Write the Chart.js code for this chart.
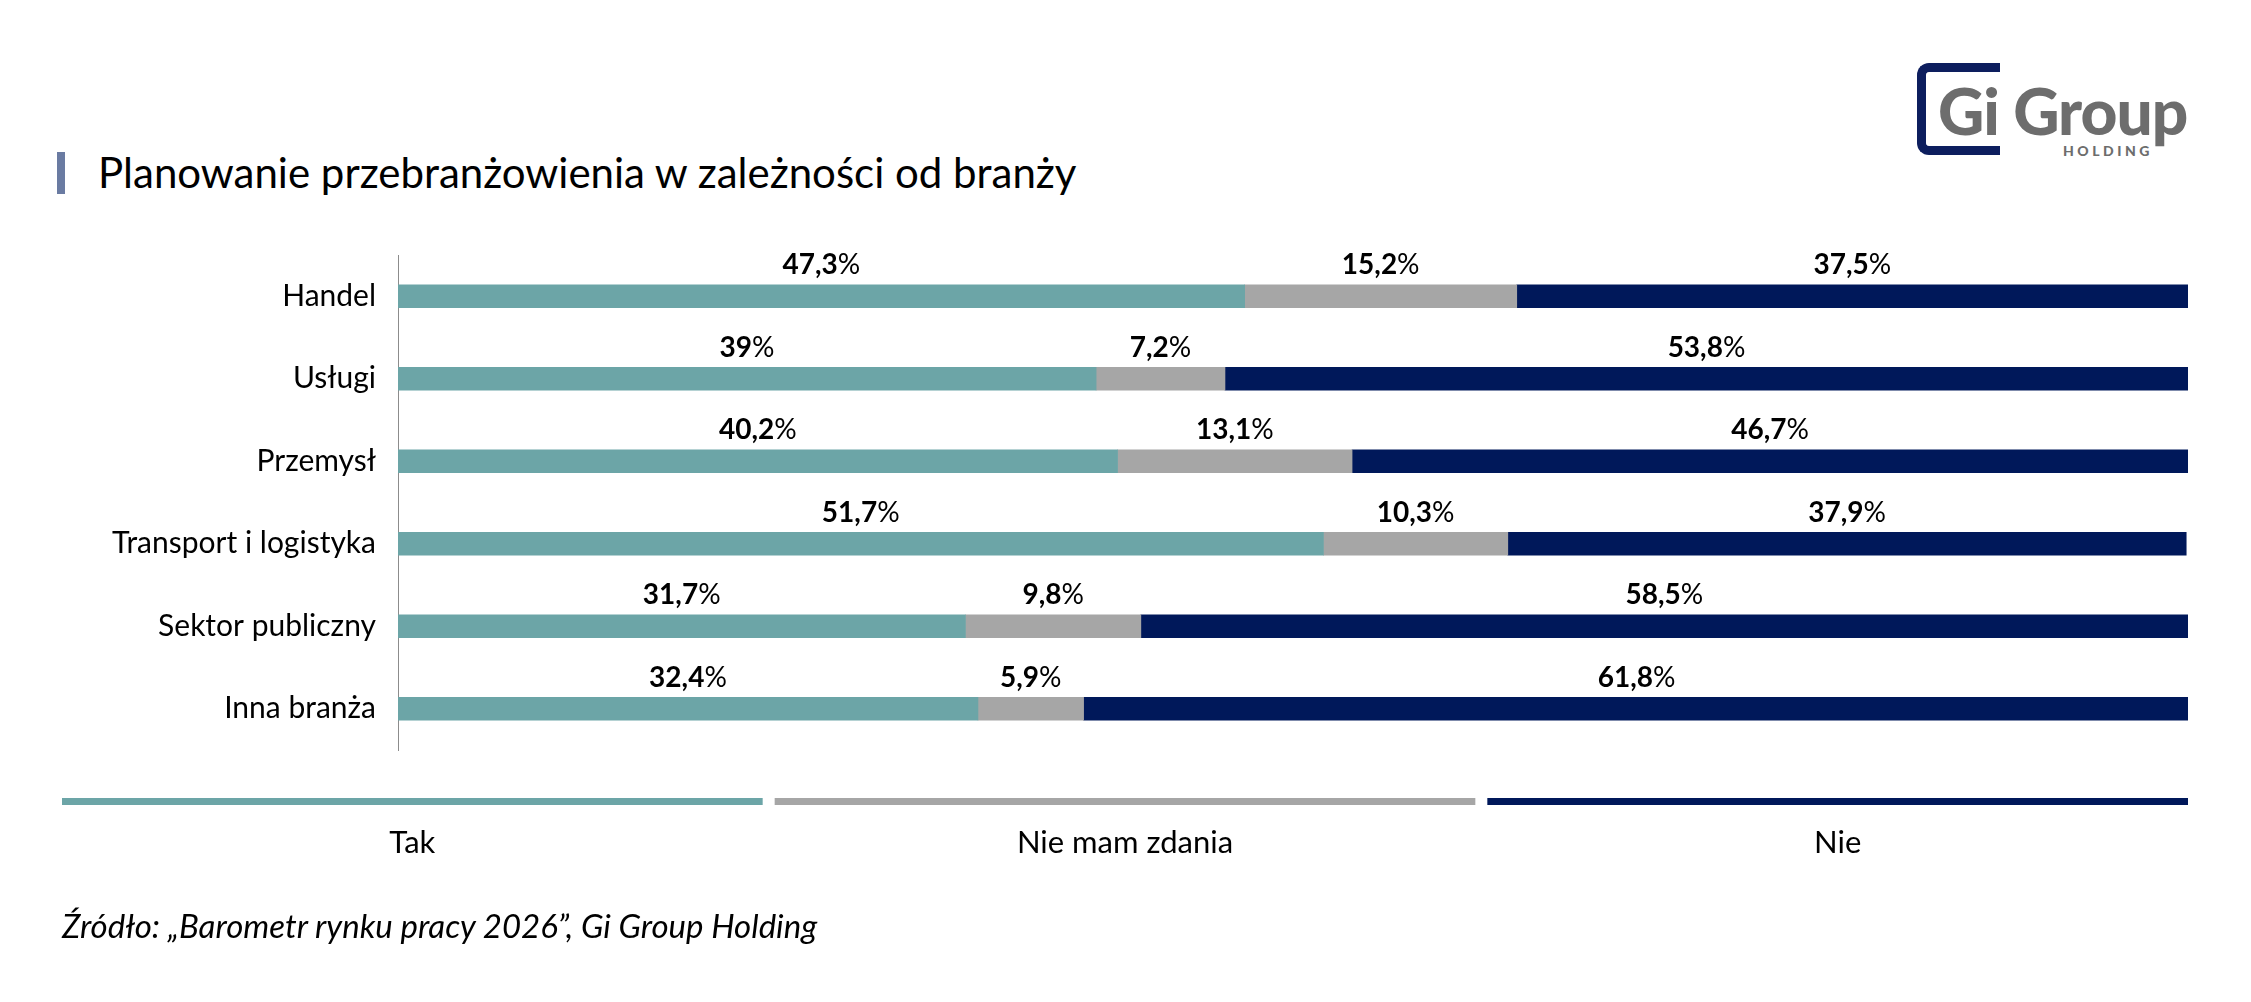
<!DOCTYPE html>
<html>
<head>
<meta charset="utf-8">
<script src="https://cdn.jsdelivr.net/npm/chart.js@4"></script>
<style>
  html, body { margin: 0; padding: 0; background: #fff; }
  body { width: 2251px; height: 1002px; position: relative; overflow: hidden; font-family: Lato, sans-serif; }
  #chartBox { position: absolute; left: 0; top: 0; width: 2251px; height: 1002px; }
  .accent { position: absolute; left: 57px; top: 152px; width: 8px; height: 42px; background: #6a7ba2; }
  .title { position: absolute; left: 98px; top: 147px; font-size: 42px; color: #000; white-space: nowrap; }
  .source { position: absolute; left: 62px; top: 905px; font-size: 33px; font-style: italic; color: #000; white-space: nowrap; }
  .logo-bracket { position: absolute; left: 1917px; top: 63px; width: 74px; height: 74px; border: 9px solid #0d1e5e; border-right: none; border-radius: 12px 0 0 12px; }
  .logo-text { position: absolute; left: 1938px; top: 72px; font-size: 64px; font-weight: 900; color: #6d6d6d; white-space: nowrap; letter-spacing: -1px; }
  .logo-sub { position: absolute; left: 2063px; top: 142px; font-size: 14px; font-weight: 900; color: #6d6d6d; letter-spacing: 3.5px; white-space: nowrap; }
</style>
</head>
<body>
<div class="logo-bracket"></div>
<div class="logo-text">Gi Group</div>
<div class="logo-sub">HOLDING</div>
<div class="accent"></div>
<div class="title">Planowanie przebranżowienia w zależności od branży</div>
<div id="chartBox"><canvas id="chart" width="2251" height="1002"></canvas></div>
<div class="source">Źródło: „Barometr rynku pracy 2026”, Gi Group Holding</div>
<script>
var categories = ['Handel', 'Usługi', 'Przemysł', 'Transport i logistyka', 'Sektor publiczny', 'Inna branża'];
var seriesNames = ['Tak', 'Nie mam zdania', 'Nie'];
var takValues = [47.3, 39, 40.2, 51.7, 31.7, 32.4];
var brakValues = [15.2, 7.2, 13.1, 10.3, 9.8, 5.9];
var nieValues = [37.5, 53.8, 46.7, 37.9, 58.5, 61.8];
var seriesColors = ['#6ca5a7', '#a6a6a6', '#00185a'];

function fmt(v) {
    return String(v).replace('.', ',');
}

// value labels above each segment: bold number, regular percent sign
var segmentLabels = {
    id: 'segmentLabels',
    afterDatasetsDraw: function (chart) {
        var ctx = chart.ctx;
        ctx.save();
        ctx.fillStyle = '#000';
        ctx.textBaseline = 'alphabetic';
        chart.data.datasets.forEach(function (ds, i) {
            var meta = chart.getDatasetMeta(i);
            meta.data.forEach(function (bar, j) {
                var num = fmt(ds.data[j]);
                ctx.font = 'bold 28px Lato';
                var w1 = ctx.measureText(num).width;
                ctx.font = '28px Lato';
                var w2 = ctx.measureText('%').width;
                var cx = (bar.base + bar.x) / 2;
                var x0 = cx - (w1 + w2) / 2;
                var y = bar.y - 22;
                ctx.font = 'bold 28px Lato';
                ctx.textAlign = 'left';
                ctx.fillText(num, x0, y);
                ctx.font = '28px Lato';
                ctx.fillText('%', x0 + w1, y);
            });
        });
        ctx.restore();
    }
};

// legend drawn as long colour strips with centred names below
var stripLegend = {
    id: 'stripLegend',
    afterDraw: function (chart) {
        var ctx = chart.ctx;
        var left = 62, right = 2188, gap = 12, top = 798, h = 7;
        var n = chart.data.datasets.length;
        var w = (right - left - gap * (n - 1)) / n;
        ctx.save();
        chart.data.datasets.forEach(function (ds, i) {
            var x = left + i * (w + gap);
            ctx.fillStyle = ds.backgroundColor;
            ctx.fillRect(x, top, w, h);
            ctx.fillStyle = '#000';
            ctx.font = '31px Lato';
            ctx.textAlign = 'center';
            ctx.textBaseline = 'middle';
            ctx.fillText(ds.label, x + w / 2, 843);
        });
        ctx.restore();
    }
};

var ctx = document.getElementById('chart').getContext('2d');
var chart = new Chart(ctx, {
    type: 'bar',
    data: {
        labels: categories,
        datasets: [
            { label: seriesNames[0], data: takValues, backgroundColor: seriesColors[0] },
            { label: seriesNames[1], data: brakValues, backgroundColor: seriesColors[1] },
            { label: seriesNames[2], data: nieValues, backgroundColor: seriesColors[2] }
        ]
    },
    options: {
        indexAxis: 'y',
        responsive: false,
        animation: false,
        devicePixelRatio: 1,
        barThickness: 23,
        layout: { padding: { left: 0, right: 63, top: 255, bottom: 252 } },
        scales: {
            x: { stacked: true, min: 0, max: 100, display: false },
            y: {
                stacked: true,
                grid: { display: false, drawTicks: false },
                border: { display: true, color: '#8c8c8c', width: 1 },
                ticks: { color: '#000', font: { family: 'Lato', size: 30 }, padding: 22 },
                afterFit: function (scale) { scale.width = 398; }
            }
        },
        plugins: {
            legend: { display: false },
            tooltip: { enabled: false }
        }
    },
    plugins: [segmentLabels, stripLegend]
});
</script>
</body>
</html>
